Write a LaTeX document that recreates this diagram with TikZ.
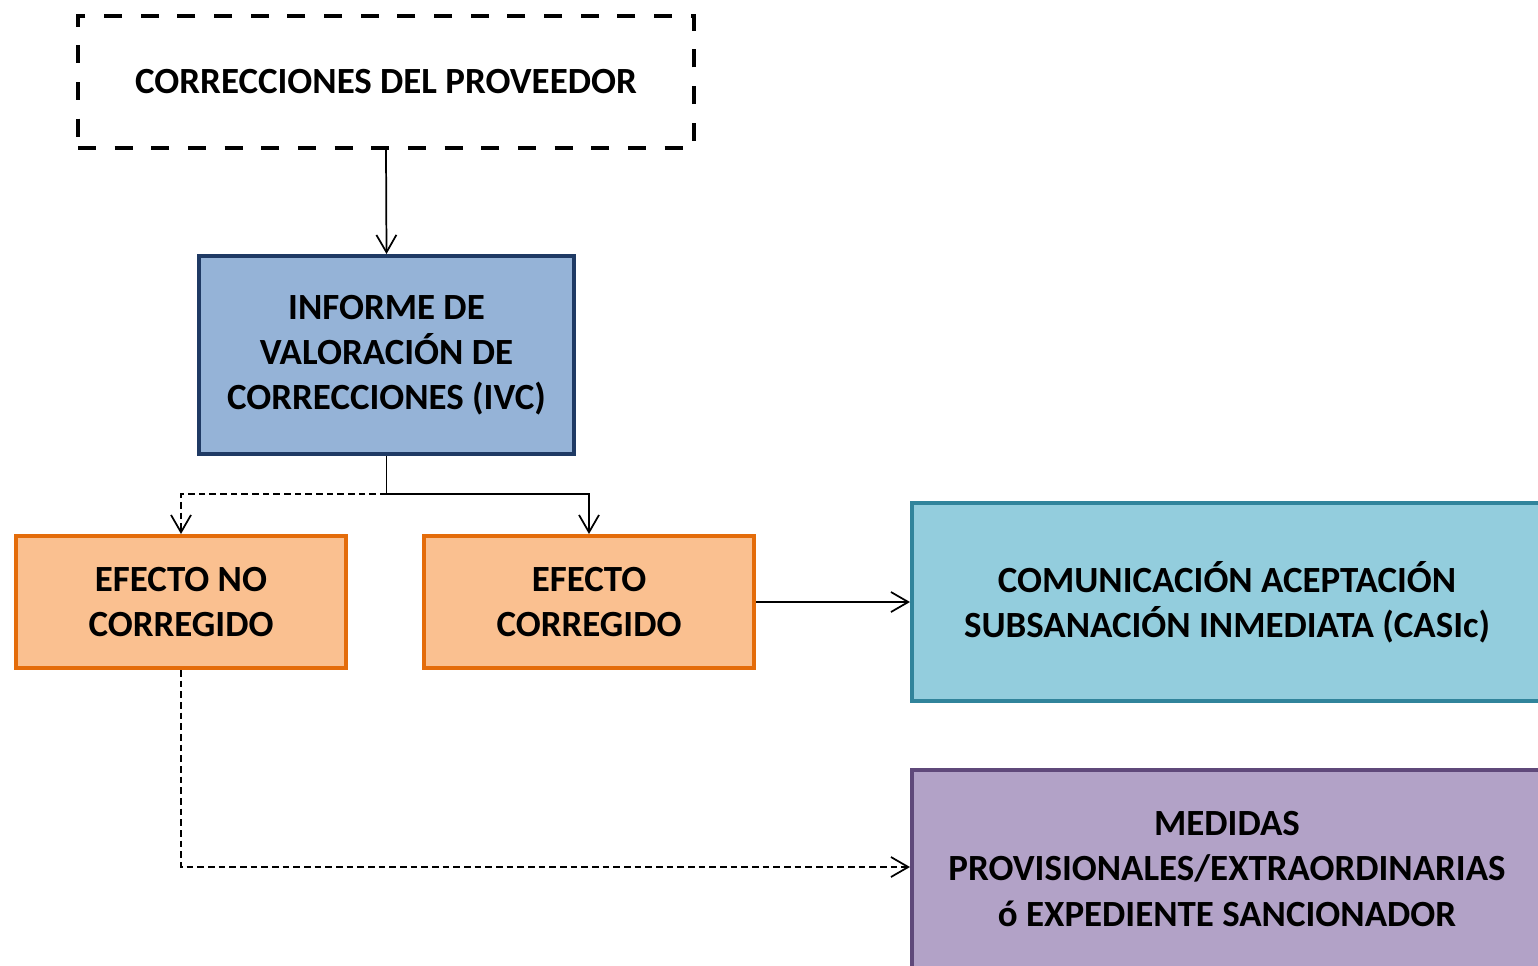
\documentclass[tikz,border=0pt]{standalone}
\usepackage{fontspec}
\setmainfont{Carlito}
\usetikzlibrary{arrows.meta}
\definecolor{ivcfill}{HTML}{95B3D7}
\definecolor{ivcdraw}{HTML}{1F3A64}
\definecolor{orfill}{HTML}{FAC090}
\definecolor{ordraw}{HTML}{E46C0A}
\definecolor{cafill}{HTML}{93CDDD}
\definecolor{cadraw}{HTML}{31849B}
\definecolor{mefill}{HTML}{B2A2C7}
\definecolor{medraw}{HTML}{5F497A}
\tikzset{
  txt/.style={align=center, inner sep=0pt,
    font=\fontsize{27.7}{33.8}\selectfont\bfseries},
  box/.style={txt, rectangle, line width=3pt},
  conn/.style={line width=1.3pt, -{Straight Barb[length=13pt,width=15pt]}},
  dconn/.style={conn, dash pattern=on 5pt off 3pt},
}
\begin{document}
\begin{tikzpicture}[x=0.75pt,y=-0.75pt]
\useasboundingbox (0,0) rectangle (1538,965);
\fill[white] (0,0) rectangle (1538,965);
\begin{scope}
\clip (0,0) rectangle (1538,965);
\node[box, draw=black, dash pattern=on 13.5pt off 14pt, minimum width=616*0.75pt, minimum height=132*0.75pt] (prov) at (386,82) {CORRECCIONES DEL PROVEEDOR};
\node[box, draw=ivcdraw, fill=ivcfill, minimum width=375*0.75pt, minimum height=198*0.75pt] (ivc) at (386.5,355) {INFORME DE\\VALORACIÓN DE\\CORRECCIONES (IVC)};
\node[box, draw=ordraw, fill=orfill, minimum width=330*0.75pt, minimum height=132*0.75pt] (enc) at (181,602) {EFECTO NO\\CORREGIDO};
\node[box, draw=ordraw, fill=orfill, minimum width=330*0.75pt, minimum height=132*0.75pt] (ec) at (589,602) {EFECTO\\CORREGIDO};
\node[box, draw=cadraw, fill=cafill, anchor=north west, minimum width=680*0.75pt, minimum height=198*0.75pt] (casicbox) at (910,501) {};
\node[txt] (casic) at (1227,602) {COMUNICACIÓN ACEPTACIÓN\\SUBSANACIÓN INMEDIATA (CASIc)};
\node[box, draw=medraw, fill=mefill, anchor=north west, minimum width=680*0.75pt, minimum height=240*0.75pt] (medbox) at (910,768) {};
\node[txt] (med) at (1227,869) {MEDIDAS\\PROVISIONALES/EXTRAORDINARIAS\\ó EXPEDIENTE SANCIONADOR};
\draw[conn] (prov.south) -- (ivc.north);
\draw[conn] (ivc.south) -- ++(0,38) coordinate (split) -| (ec.north);
\draw[dconn] (split) -| (enc.north);
\draw[conn] (ec.east) -- (casicbox.west |- ec.east);
\draw[dconn] (enc.south) |- (medbox.west |- 0,867);
\end{scope}
\end{tikzpicture}
\end{document}
